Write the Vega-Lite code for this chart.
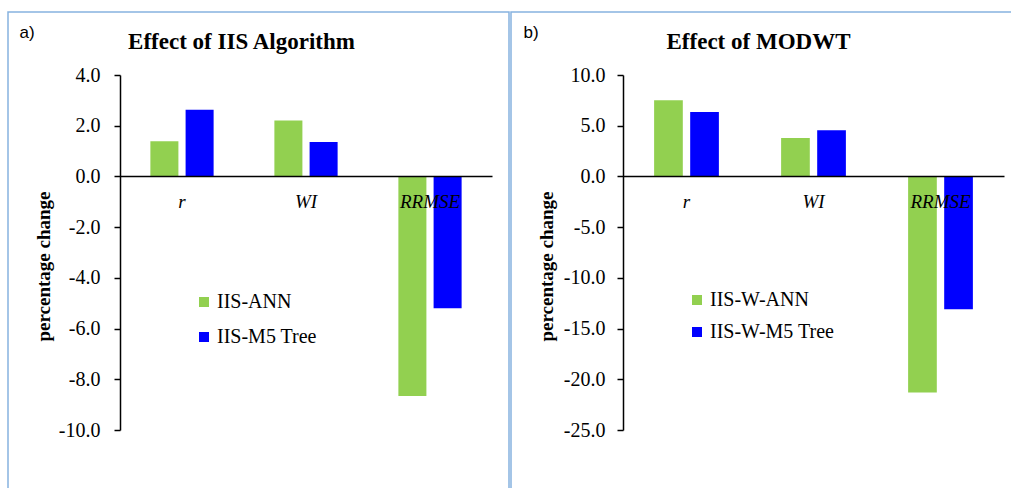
{
  "$schema": "https://vega.github.io/schema/vega-lite/v6.json",
  "background": "white",
  "padding": {"left": 7, "top": 11, "right": 0, "bottom": 0},
  "spacing": 2,
  "bounds": "flush",
  "config": {
    "font": "Liberation Serif",
    "view": {"stroke": "#86B2E0", "strokeWidth": 1.5},
    "axis": {
      "grid": false,
      "zindex": 1,
      "domainColor": "black",
      "domainWidth": 1.5,
      "tickColor": "black",
      "tickWidth": 1.5,
      "labelColor": "black",
      "titleColor": "black",
      "labelFont": "Liberation Serif",
      "titleFont": "Liberation Serif"
    },
    "legend": {
      "orient": "none",
      "title": null,
      "symbolType": "square",
      "symbolSize": 100,
      "symbolStrokeWidth": 0,
      "labelFont": "Liberation Serif",
      "labelFontSize": 20,
      "labelColor": "black",
      "labelOffset": 3,
      "padding": 0
    },
    "title": {
      "font": "Liberation Serif",
      "fontSize": 23,
      "fontWeight": "bold",
      "color": "black",
      "anchor": "middle",
      "frame": "group"
    }
  },
  "datasets": {
    "iis": [
      {"metric": "r", "model": "IIS-ANN", "value": 1.39},
      {"metric": "r", "model": "IIS-M5 Tree", "value": 2.63},
      {"metric": "WI", "model": "IIS-ANN", "value": 2.21},
      {"metric": "WI", "model": "IIS-M5 Tree", "value": 1.36},
      {"metric": "RRMSE", "model": "IIS-ANN", "value": -8.66},
      {"metric": "RRMSE", "model": "IIS-M5 Tree", "value": -5.2}
    ],
    "modwt": [
      {"metric": "r", "model": "IIS-W-ANN", "value": 7.5},
      {"metric": "r", "model": "IIS-W-M5 Tree", "value": 6.34},
      {"metric": "WI", "model": "IIS-W-ANN", "value": 3.79},
      {"metric": "WI", "model": "IIS-W-M5 Tree", "value": 4.55},
      {"metric": "RRMSE", "model": "IIS-W-ANN", "value": -21.3},
      {"metric": "RRMSE", "model": "IIS-W-M5 Tree", "value": -13.1}
    ]
  },
  "hconcat": [
    {
      "width": 501,
      "height": 480,
      "data": {"name": "iis"},
      "title": {"text": "Effect of IIS Algorithm", "offset": -42, "dx": -17},
      "mark": {"type": "bar"},
      "encoding": {
        "x": {
          "field": "metric",
          "type": "nominal",
          "sort": ["r", "WI", "RRMSE"],
          "scale": {"range": [112, 484], "paddingInner": 0.49, "paddingOuter": 0.245},
          "axis": {
            "orient": "bottom",
            "offset": -316,
            "zindex": 2,
            "ticks": false,
            "tickSize": 0,
            "labelAngle": 0,
            "labelFontStyle": "italic",
            "labelFontSize": 19,
            "labelPadding": 16,
            "title": "a)",
            "titleFont": "Liberation Sans",
            "titleFontWeight": "normal",
            "titleFontSize": 17,
            "titleAlign": "left",
            "titleBaseline": "alphabetic",
            "titleX": 11,
            "titleY": -139
          }
        },
        "xOffset": {
          "field": "model",
          "type": "nominal",
          "sort": ["IIS-ANN", "IIS-M5 Tree"],
          "scale": {"paddingInner": 0.2045, "paddingOuter": 0}
        },
        "y": {
          "field": "value",
          "type": "quantitative",
          "scale": {"domain": [-10, 4], "range": [418, 63], "nice": false},
          "axis": {
            "values": [-10, -8, -6, -4, -2, 0, 2, 4],
            "labelExpr": "datum.value < 0 ? '-' + format(-datum.value, '.1f') : format(datum.value, '.1f')",
            "offset": -112,
            "zindex": 2,
            "tickSize": 6,
            "labelPadding": 14,
            "labelFontSize": 20,
            "title": "percentage change",
            "titleFontSize": 19,
            "titleFontWeight": "bold",
            "titleAngle": 270,
            "titleAlign": "center",
            "titleBaseline": "bottom",
            "titleX": -67,
            "titleY": 254
          }
        },
        "color": {
          "field": "model",
          "type": "nominal",
          "scale": {"domain": ["IIS-ANN", "IIS-M5 Tree"], "range": ["#92D050", "#0000FF"]},
          "legend": {"legendX": 186, "legendY": 280, "rowPadding": 15}
        }
      }
    },
    {
      "width": 515,
      "height": 480,
      "data": {"name": "modwt"},
      "title": {"text": "Effect of MODWT", "offset": -42, "dx": -10},
      "mark": {"type": "bar"},
      "encoding": {
        "x": {
          "field": "metric",
          "type": "nominal",
          "sort": ["r", "WI", "RRMSE"],
          "scale": {"range": [112, 493], "paddingInner": 0.49, "paddingOuter": 0.245},
          "axis": {
            "orient": "bottom",
            "offset": -316,
            "zindex": 2,
            "ticks": false,
            "tickSize": 0,
            "labelAngle": 0,
            "labelFontStyle": "italic",
            "labelFontSize": 19,
            "labelPadding": 16,
            "title": "b)",
            "titleFont": "Liberation Sans",
            "titleFontWeight": "normal",
            "titleFontSize": 17,
            "titleAlign": "left",
            "titleBaseline": "alphabetic",
            "titleX": 12,
            "titleY": -139
          }
        },
        "xOffset": {
          "field": "model",
          "type": "nominal",
          "sort": ["IIS-W-ANN", "IIS-W-M5 Tree"],
          "scale": {"paddingInner": 0.2045, "paddingOuter": 0}
        },
        "y": {
          "field": "value",
          "type": "quantitative",
          "scale": {"domain": [-25, 10], "range": [418, 63], "nice": false},
          "axis": {
            "values": [-25, -20, -15, -10, -5, 0, 5, 10],
            "labelExpr": "datum.value < 0 ? '-' + format(-datum.value, '.1f') : format(datum.value, '.1f')",
            "offset": -112,
            "zindex": 2,
            "tickSize": 6,
            "labelPadding": 12,
            "labelFontSize": 20,
            "title": "percentage change",
            "titleFontSize": 19,
            "titleFontWeight": "bold",
            "titleAngle": 270,
            "titleAlign": "center",
            "titleBaseline": "bottom",
            "titleX": -67,
            "titleY": 254
          }
        },
        "color": {
          "field": "model",
          "type": "nominal",
          "scale": {"domain": ["IIS-W-ANN", "IIS-W-M5 Tree"], "range": ["#92D050", "#0000FF"]},
          "legend": {"legendX": 176, "legendY": 278, "rowPadding": 12}
        }
      }
    }
  ],
  "resolve": {
    "scale": {"x": "independent", "y": "independent", "color": "independent", "xOffset": "independent"},
    "legend": {"color": "independent"}
  }
}
